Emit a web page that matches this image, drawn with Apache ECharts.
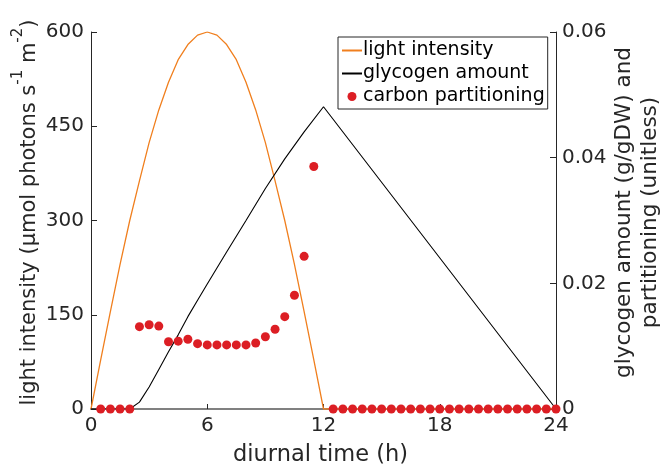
<!DOCTYPE html>
<html>
<head>
<meta charset="utf-8">
<script src="https://cdn.jsdelivr.net/npm/echarts@6/dist/echarts.min.js"></script>
<style>html,body{margin:0;padding:0;background:#fff;}#c{width:664px;height:466px;}</style>
</head>
<body>
<div id="c"></div>
<script>
// Light intensity (µmol photons s^-1 m^-2), left axis
const lightHours = [0,0.5,1,1.5,2,2.5,3,3.5,4,4.5,5,5.5,6,6.5,7,7.5,8,8.5,9,9.5,10,10.5,11,11.5,12,24];
const lightValues = [0,78,155,230,300,363,424,476,520,556,580,595,600,595,580,556,520,476,424,363,300,230,155,78,0,0];

// Glycogen amount (g/gDW), right axis
const glycogenHours = [0,2,2.5,3,3.5,4,4.5,5,5.5,6,7,8,9,10,11,12,24];
const glycogenValues = [0,0,0.0011,0.0035,0.0063,0.0091,0.0118,0.0147,0.0173,0.0199,0.0250,0.0300,0.0351,0.0398,0.0441,0.0481,0];

// Carbon partitioning (unitless), right axis
const partitionHours = [0.5,1,1.5,2,2.5,3,3.5,4,4.5,5,5.5,6,6.5,7,7.5,8,8.5,9,9.5,10,10.5,11,11.5,
  12.5,13,13.5,14,14.5,15,15.5,16,16.5,17,17.5,18,18.5,19,19.5,20,20.5,21,21.5,22,22.5,23,23.5,24];
const partitionValues = [0,0,0,0,0.0131,0.0134,0.0132,0.0107,0.0108,0.0111,0.0104,0.0102,0.0102,0.0102,0.0102,0.0102,0.0105,0.0115,0.0127,0.0147,0.0181,0.0243,0.0386,
  0,0,0,0,0,0,0,0,0,0,0,0,0,0,0,0,0,0,0,0,0,0,0,0];

const xTicks = [0,6,12,18,24];
const leftTicks = [0,150,300,450,600];
const rightTicks = [0,0.02,0.04,0.06];

const seriesNames = ['light intensity','glycogen amount','carbon partitioning'];

const zip = (a,b) => a.map((v,i)=>[v,b[i]]);
const txt = '#262626';
const font = 'DejaVu Sans';

const chart = echarts.init(document.getElementById('c'), null, {renderer:'canvas'});
chart.setOption({
  animation:false,
  backgroundColor:'#fff',
  textStyle:{fontFamily:font},
  grid:{left:91, right:108, top:32, bottom:57, containLabel:false, outerBoundsMode:'none'},
  legend:{
    data:[
      {name:seriesNames[0], itemStyle:{opacity:0}},
      {name:seriesNames[1], itemStyle:{opacity:0}},
      {name:seriesNames[2]}
    ],
    orient:'vertical',
    left:338, top:37,
    padding:[4,3,3,3],
    itemGap:4,
    itemWidth:20, itemHeight:9,
    borderColor:txt, borderWidth:1, borderRadius:0,
    backgroundColor:'#fff',
    textStyle:{fontFamily:font, fontSize:19, color:'#000', padding:[0,0,0,-4]}
  },
  xAxis:{
    type:'value', min:xTicks[0], max:xTicks[xTicks.length-1], interval:6,
    name:'diurnal time (h)', nameLocation:'middle', nameGap:35,
    nameTextStyle:{fontFamily:font, fontSize:22.5, color:txt, padding:[0,0,0,-6]},
    axisLine:{show:true, onZero:false, lineStyle:{color:'#808080', width:2}},
    axisTick:{show:true, inside:true, length:5, lineStyle:{color:txt}},
    axisLabel:{fontFamily:font, fontSize:20, color:txt, margin:7},
    splitLine:{show:false}
  },
  yAxis:[
    {
      type:'value', min:leftTicks[0], max:leftTicks[leftTicks.length-1], interval:150,
      position:'left',
      name:'{m|light intensity (µmol photons s}{s|-1}{m| m}{s|-2}{m|)}',
      nameLocation:'middle', nameGap:48, nameRotate:90, nameMoveOverlap:false,
      nameTextStyle:{fontFamily:font, fontSize:21, color:txt, padding:[0,0,0,16],
        rich:{
          m:{fontFamily:font, fontSize:21, color:txt, lineHeight:32, verticalAlign:'bottom', padding:[0,0,3,0]},
          s:{fontFamily:font, fontSize:15, color:txt, lineHeight:32, verticalAlign:'top'}
        }},
      axisLine:{show:true, lineStyle:{color:txt, width:1}},
      axisTick:{show:true, inside:true, length:6, lineStyle:{color:txt}},
      axisLabel:{fontFamily:font, fontSize:20, color:txt, margin:7},
      splitLine:{show:false}
    },
    {
      type:'value', min:rightTicks[0], max:rightTicks[rightTicks.length-1], interval:0.02,
      position:'right',
      name:'glycogen amount (g/gDW) and\npartitioning (unitless)',
      nameLocation:'middle', nameGap:55, nameRotate:90, nameMoveOverlap:false,
      nameTextStyle:{fontFamily:font, fontSize:21.5, color:txt, lineHeight:26, align:'center', padding:[0,0,0,16]},
      axisLine:{show:true, lineStyle:{color:txt, width:1}},
      axisTick:{show:true, inside:true, length:6, lineStyle:{color:txt}},
      axisLabel:{fontFamily:font, fontSize:20, color:txt, margin:6,
        formatter:v => v===0 ? '0' : String(+v.toFixed(2))},
      splitLine:{show:false}
    }
  ],
  series:[
    {
      name:seriesNames[0], type:'line', yAxisIndex:0, symbol:'none',
      data:zip(lightHours, lightValues),
      lineStyle:{color:'#F07F1E', width:1.3}, itemStyle:{color:'#F07F1E'}, z:2
    },
    {
      name:seriesNames[1], type:'line', yAxisIndex:1, symbol:'none',
      data:zip(glycogenHours, glycogenValues),
      lineStyle:{color:'#000', width:1.1}, itemStyle:{color:'#000'}, z:3
    },
    {
      name:seriesNames[2], type:'scatter', yAxisIndex:1, symbol:'circle', symbolSize:9,
      data:zip(partitionHours, partitionValues), clip:false,
      itemStyle:{color:'#DC1E24', opacity:1}, z:4
    }
  ]
});
</script>
</body>
</html>
